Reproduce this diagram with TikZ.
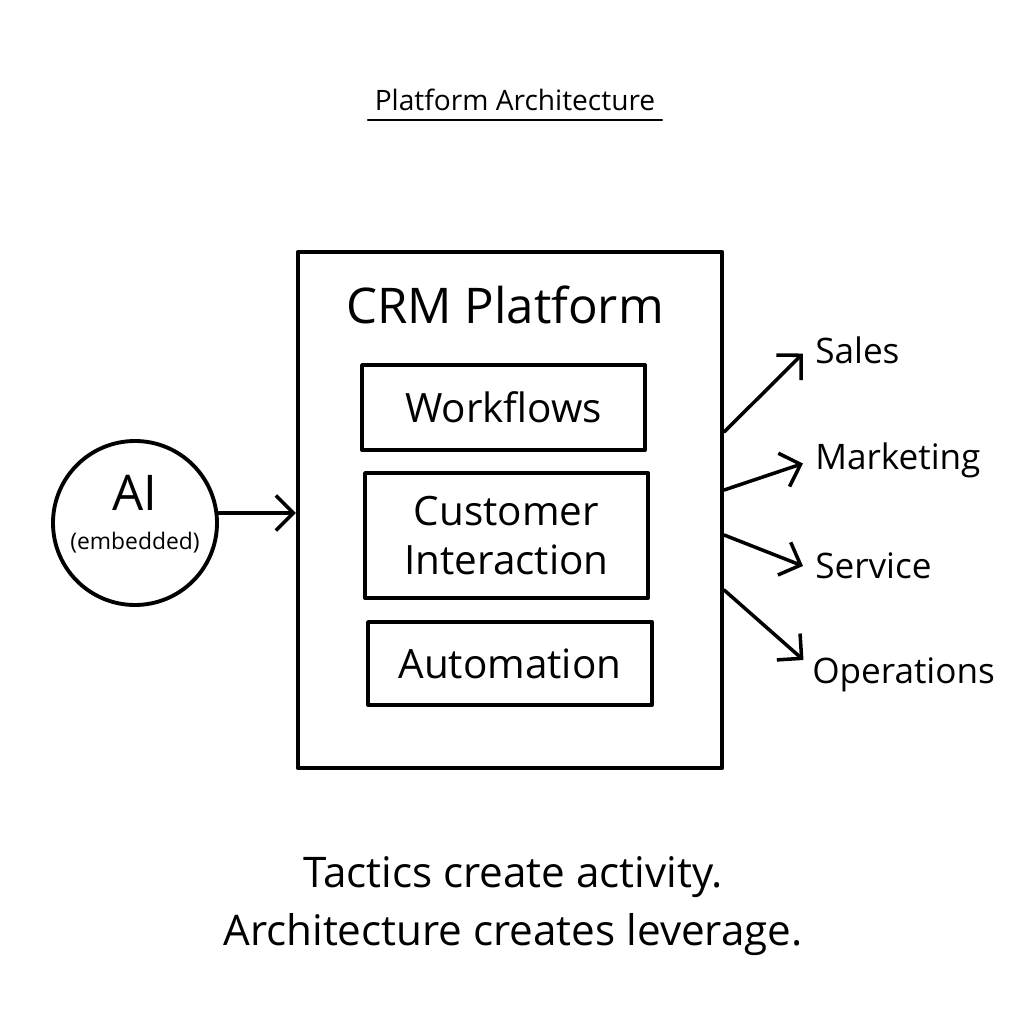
\documentclass[tikz,border=0pt]{standalone}
\usepackage{fontspec}
\setmainfont{Open Sans}
\usetikzlibrary{arrows.meta,calc}

\begin{document}
\begin{tikzpicture}[scale=1.0, >={Straight Barb[length=5pt,width=10pt]},
    line width=1pt, line cap=round, line join=round,
    modbox/.style={draw, line width=1.1pt, minimum width=2.83cm, font=\fontsize{11.5}{14}\selectfont, align=center},
    outlabel/.style={anchor=west, inner sep=1pt, font=\fontsize{10}{12}\selectfont}]
  % Canvas
  \useasboundingbox (0,0) rectangle (10.24,10.24);
  \fill[white] (0,0) rectangle (10.24,10.24);

  % Title
  \node[font=\fontsize{8}{10}\selectfont] (title) at (5.15, 9.24) {Platform Architecture};
  \draw[line width=0.7pt] (3.68, 9.04) -- (6.62, 9.04);

  % CRM Platform
  \node[draw, line width=1.2pt, minimum width=4.24cm, minimum height=5.16cm] (crm) at (5.10, 5.14) {};
  \node[font=\fontsize{14}{16}\selectfont] (crmtitle) at (5.05, 7.19) {CRM Platform};

  % Modules
  \node[modbox, minimum height=0.85cm] (wf) at (5.035, 6.165) {Workflows};
  \node[modbox, minimum height=1.25cm] (ci) at (5.065, 4.885) {Customer\\Interaction};
  \node[modbox, minimum height=0.83cm, minimum width=2.84cm] (au) at (5.10, 3.605) {Automation};

  % AI
  \node[draw, circle, line width=1.1pt, minimum size=1.64cm, inner sep=0pt] (ai) at (1.35, 5.01) {};
  \node[align=center, inner sep=0pt] (aitext) at ([yshift=0.09cm]ai.center)
    {{\fontsize{14}{15}\selectfont AI}\\[-1pt]{\fontsize{6.5}{8}\selectfont (embedded)}};
  \draw[->] ([yshift=0.1cm]ai.east) -- ([yshift=0.1cm]ai.east -| crm.west);

  % Functions
  \node[outlabel] (sales) at (8.10, 6.74) {Sales};
  \node[outlabel] (mkt) at (8.10, 5.64) {Marketing};
  \node[outlabel] (svc) at (8.10, 4.58) {Service};
  \node[outlabel] (ops) at (8.07, 3.49) {Operations};
  \draw[->] ($(crm.east)+(0,0.78)$) -- ([xshift=-2pt, yshift=-1pt]sales.west);
  \draw[->] ($(crm.east)+(0,0.20)$) -- ([xshift=-2pt, yshift=-1pt]mkt.west);
  \draw[->] ($(crm.east)+(0,-0.25)$) -- ([xshift=-2pt]svc.west);
  \draw[->] ($(crm.east)+(0,-0.80)$) -- ([xshift=-1pt, yshift=0.15cm]ops.west);

  % Motto
  \node[align=center, font=\fontsize{12}{16.5}\selectfont] (motto) at (5.13, 1.18)
    {Tactics create activity.\\Architecture creates leverage.};
\end{tikzpicture}
\end{document}
